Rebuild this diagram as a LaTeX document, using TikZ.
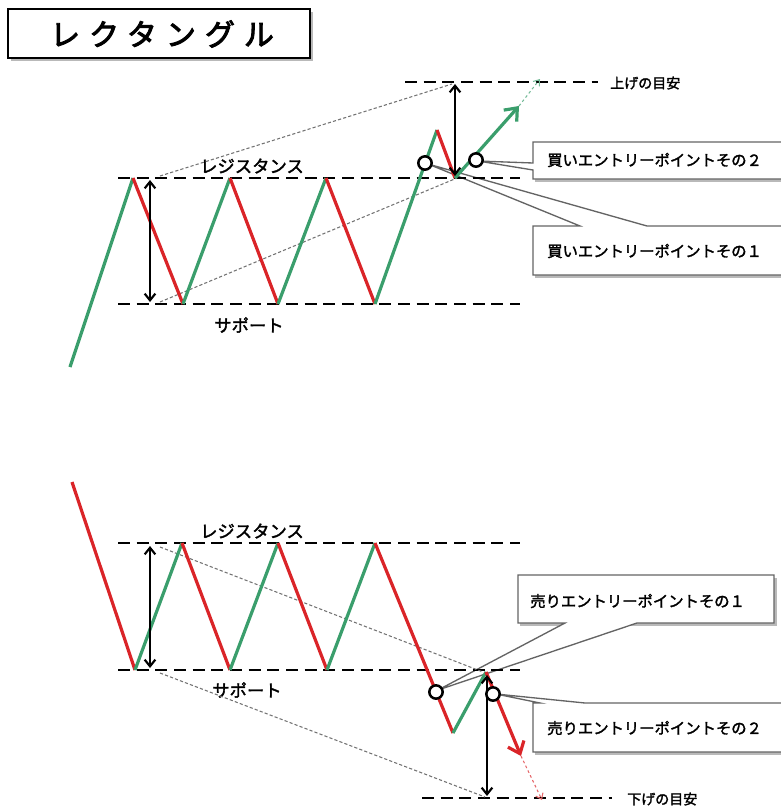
\documentclass[tikz,border=0pt]{standalone}
\usepackage{fontspec}
\newfontfamily\jpb[FakeBold=2]{Noto Sans CJK JP}
\newfontfamily\jptitle[FakeBold=3,LetterSpace=30]{Noto Sans CJK JP}
\usetikzlibrary{arrows.meta}
\definecolor{upg}{RGB}{58,158,108}
\definecolor{dnr}{RGB}{218,36,40}
\definecolor{boxgray}{RGB}{100,100,100}
\begin{document}
\begin{tikzpicture}[x=0.75pt,y=-0.75pt,
  up/.style={upg,line width=2.4pt},
  dn/.style={dnr,line width=2.4pt},
  lvl/.style={black,line width=1.9pt,dash pattern=on 9pt off 5pt},
  proj/.style={gray!90!black,line width=0.8pt,dash pattern=on 2.4pt off 1.6pt},
  meas/.style={black,line width=1.6pt,{Straight Barb[length=5pt,width=8pt]}-{Straight Barb[length=5pt,width=8pt]}},
  bigup/.style={up,-{Straight Barb[length=8pt,width=13pt]}},
  bigdn/.style={dn,-{Straight Barb[length=8pt,width=13pt]}},
  ghostup/.style={upg!70,line width=0.8pt,dash pattern=on 2pt off 2pt,-{Straight Barb[length=4pt,width=6pt]}},
  ghostdn/.style={dnr!70,line width=0.8pt,dash pattern=on 2pt off 2pt,-{Straight Barb[length=4pt,width=6pt]}},
  ring/.style={circle,draw=black,line width=1.9pt,fill=white,minimum size=10pt,inner sep=0pt},
  lbl/.style={font=\jpb\fontsize{13}{15}\selectfont,inner sep=0pt},
  tgt/.style={font=\jpb\fontsize{10.5}{12}\selectfont,anchor=west,inner sep=0pt},
  ctext/.style={font=\jpb\fontsize{11.5}{13}\selectfont,anchor=west,inner sep=0pt},
  cbox/.style={draw=boxgray,line width=1pt,fill=white},
  cshadow/.style={fill=gray!55},
]
\useasboundingbox (0,0) rectangle (781,811);

% ---------- title ----------
\fill[gray!55] (11,12) rectangle (313,61);
\draw[line width=1.8pt,fill=white] (8,9) rectangle (310,58);
\node (title) at (162,34) {\jptitle\fontsize{22.5}{26}\selectfont レクタングル};

% ---------- top panel: callouts (behind chart) ----------
\fill[cshadow] (535,145) rectangle (790,182);
\draw[cbox] (533,142) -- (790,142) -- (790,179) -- (533,179) -- (533,170) -- (478,161) -- (533,163) -- cycle;
\node[ctext] (buy2) at (547,160) {買いエントリーポイントその２};

\fill[cshadow] (535,229) rectangle (790,278);
\draw[cbox] (533,226) -- (580,226) -- (428,164) -- (647,226) -- (790,226) -- (790,275) -- (533,275) -- cycle;
\node[ctext] (buy1) at (547,251) {買いエントリーポイントその１};

% ---------- top panel: levels ----------
\coordinate (rA) at (118,178); \coordinate (rB) at (520,178);
\coordinate (sA) at (118,304); \coordinate (sB) at (520,304);
\coordinate (gA) at (405,82);  \coordinate (gB) at (598,82);
\draw[lvl] (rA) -- (rB);
\draw[lvl] (sA) -- (sB);
\draw[lvl] (gA) -- (gB);
\node[tgt] (upt) at (610,83) {上げの目安};
\node[lbl] (res1) at (252,166) {レジスタンス};
\node[lbl] (sup1) at (249,325) {サポート};

% projections
\coordinate (p1a) at (160,176); \coordinate (p1b) at (452,84);
\coordinate (p2a) at (160,302); \coordinate (p2b) at (457,178);
\draw[proj] (p1a) -- (p1b);
\draw[proj] (p2a) -- (p2b);

% zigzag
\coordinate (t0) at (70,367);
\coordinate (t1) at (133,178);
\coordinate (t2) at (183,304);
\coordinate (t3) at (230,178);
\coordinate (t4) at (278,304);
\coordinate (t5) at (326,178);
\coordinate (t6) at (375,304);
\coordinate (t7) at (437,130);
\coordinate (t8) at (455,178);
\coordinate (t9) at (519,106);
\coordinate (t10) at (540,79);
\draw[up] (t0) -- (t1);
\draw[dn] (t1) -- (t2);
\draw[up] (t2) -- (t3);
\draw[dn] (t3) -- (t4);
\draw[up] (t4) -- (t5);
\draw[dn] (t5) -- (t6);
\draw[up] (t6) -- (t7);
\draw[dn] (t7) -- (t8);
\draw[bigup] (t8) -- (t9);
\draw[ghostup] (t9) -- (t10);

% measures
\coordinate (m1a) at (150,180); \coordinate (m1b) at (150,302);
\coordinate (m2a) at (455,84);  \coordinate (m2b) at (455,176);
\draw[meas] (m1a) -- (m1b);
\draw[meas] (m2a) -- (m2b);

% entry rings
\node[ring] (c1) at (425,163) {};
\node[ring] (c2) at (476,160) {};

% ---------- bottom panel: callouts ----------
\fill[cshadow] (520,578) rectangle (777,626);
\draw[cbox] (518,575) -- (774,575) -- (774,623) -- (637,623) -- (438,690) -- (565,623) -- (518,623) -- cycle;
\node[ctext] (sell1) at (530,601) {売りエントリーポイントその１};

\fill[cshadow] (535,706) rectangle (790,755);
\draw[cbox] (533,703) -- (540,703) -- (496,694) -- (585,703) -- (790,703) -- (790,752) -- (533,752) -- cycle;
\node[ctext] (sell2) at (547,728) {売りエントリーポイントその２};

% levels
\coordinate (rC) at (118,543); \coordinate (rD) at (520,543);
\coordinate (sC) at (118,670); \coordinate (sD) at (520,670);
\coordinate (gC) at (422,798); \coordinate (gD) at (612,798);
\draw[lvl] (rC) -- (rD);
\draw[lvl] (sC) -- (sD);
\draw[lvl] (gC) -- (gD);
\node[tgt] (dnt) at (627,799) {下げの目安};
\node[lbl] (res2) at (252,531) {レジスタンス};
\node[lbl] (sup2) at (247,690) {サポート};

% projections
\coordinate (p3a) at (160,547); \coordinate (p3b) at (483,672);
\coordinate (p4a) at (160,673); \coordinate (p4b) at (485,797);
\draw[proj] (p3a) -- (p3b);
\draw[proj] (p4a) -- (p4b);

% zigzag
\coordinate (b0) at (72,482);
\coordinate (b1) at (135,670);
\coordinate (b2) at (182,543);
\coordinate (b3) at (230,670);
\coordinate (b4) at (278,543);
\coordinate (b5) at (327,670);
\coordinate (b6) at (375,543);
\coordinate (b7) at (453,733);
\coordinate (b8) at (486,672);
\coordinate (b9) at (521,756);
\coordinate (b10) at (542,800);
\draw[dn] (b0) -- (b1);
\draw[up] (b1) -- (b2);
\draw[dn] (b2) -- (b3);
\draw[up] (b3) -- (b4);
\draw[dn] (b4) -- (b5);
\draw[up] (b5) -- (b6);
\draw[dn] (b6) -- (b7);
\draw[up] (b7) -- (b8);
\draw[bigdn] (b8) -- (b9);
\draw[ghostdn] (b9) -- (b10);

% measures
\coordinate (m3a) at (150,546); \coordinate (m3b) at (150,668);
\coordinate (m4a) at (487,675); \coordinate (m4b) at (487,796);
\draw[meas] (m3a) -- (m3b);
\draw[meas] (m4a) -- (m4b);

% entry rings
\node[ring] (c3) at (436,692) {};
\node[ring] (c4) at (493,694) {};
\end{tikzpicture}
\end{document}
